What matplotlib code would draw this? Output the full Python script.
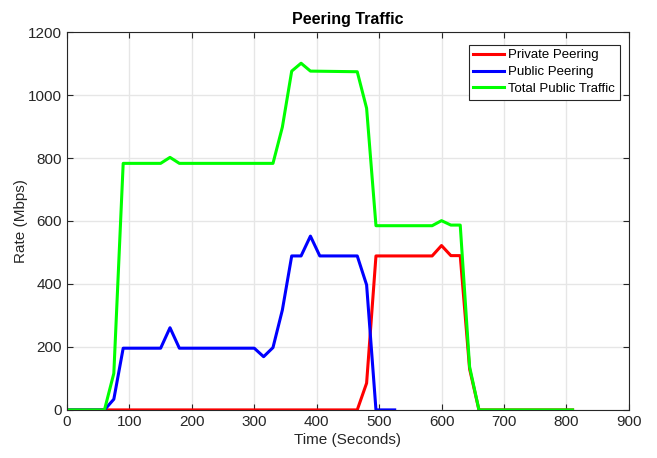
import matplotlib
matplotlib.use("Agg")
import matplotlib.pyplot as plt

plt.rcParams['font.family'] = ['Liberation Sans', 'DejaVu Sans']

t_private = [0, 465, 480, 495, 585, 600, 615, 630, 645, 660, 810]
v_private = [0, 0, 85, 489, 489, 522, 490, 490, 130, 0, 0]

t_public = [0, 60, 75, 90, 150, 165, 180, 300, 315, 330, 345, 360, 375, 390, 405, 465, 480, 495, 525]
v_public = [0, 0, 34, 196, 196, 261, 196, 196, 169, 198, 317, 489, 489, 552, 489, 489, 397, 0, 0]

t_total = [0, 60, 75, 90, 150, 165, 180, 330, 345, 360, 375, 390, 465, 480, 495, 585, 600, 615, 630, 645, 660, 810]
v_total = [0, 0, 116, 783, 783, 802, 783, 783, 898, 1076, 1101, 1076, 1074, 958, 585, 585, 601, 587, 587, 137, 0, 0]

labels = ["Private Peering", "Public Peering", "Total Public Traffic"]
colors = ["#ff0000", "#0000ff", "#00ff00"]

fig = plt.figure(figsize=(6.57, 4.58), dpi=100)
ax = fig.add_axes([0.102, 0.105, 0.855, 0.825])

ax.plot(t_private, v_private, color=colors[0], lw=2.2, label=labels[0])
ax.plot(t_public, v_public, color=colors[1], lw=2.2, label=labels[1])
ax.plot(t_total, v_total, color=colors[2], lw=2.2, label=labels[2])

ax.set_xlim(0, 900)
ax.set_ylim(0, 1200)
ax.set_xticks(range(0, 901, 100))
ax.set_yticks(range(0, 1201, 200))
ax.grid(True, color="#e6e6e6", lw=1)
ax.set_axisbelow(True)
ax.tick_params(direction="in", top=True, right=True, labelsize=11, colors="#262626", length=4)
for s in ax.spines.values():
    s.set_color("#262626")
    s.set_linewidth(0.8)

ax.set_title("Peering Traffic", fontsize=11.5, fontweight="bold", pad=6)
ax.set_xlabel("Time (Seconds)", fontsize=11, color="#262626", labelpad=3)
ax.set_ylabel("Rate (Mbps)", fontsize=11, color="#262626", labelpad=0)

leg = ax.legend(loc="upper right", fontsize=9.5, fancybox=False, framealpha=1,
                edgecolor="#262626", borderpad=0.35, handlelength=2.3,
                labelspacing=0.35, handletextpad=0.35, borderaxespad=0,
                bbox_to_anchor=(0.984, 0.967))
leg.get_frame().set_linewidth(0.8)

fig.savefig("out.png", dpi=100)
